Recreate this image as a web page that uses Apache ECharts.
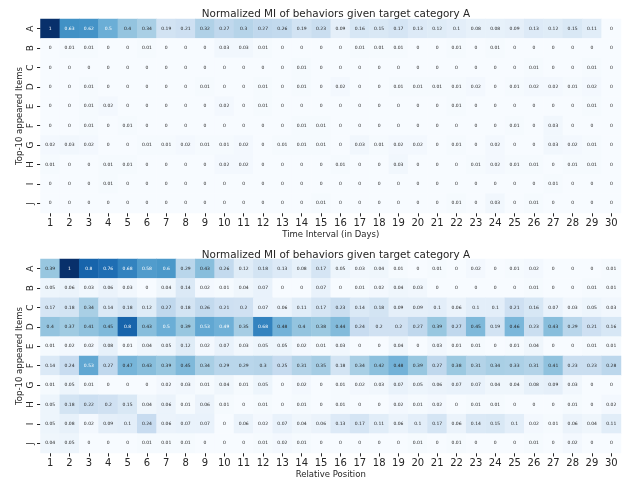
<!DOCTYPE html>
<html>
<head>
<meta charset="utf-8">
<script src="https://cdn.jsdelivr.net/npm/echarts@6/dist/echarts.min.js"></script>
<style>
  html, body { margin: 0; padding: 0; background: #fff; }
  #chart { width: 639px; height: 485px; }
</style>
</head>
<body>
<div id="chart"></div>
<script>
// tick labels
const items = ['A', 'B', 'C', 'D', 'E', 'F', 'G', 'H', 'I', 'J']
const steps = ['1', '2', '3', '4', '5', '6', '7', '8', '9', '10', '11', '12', '13', '14', '15',
  '16', '17', '18', '19', '20', '21', '22', '23', '24', '25', '26', '27', '28', '29', '30']

// top panel: MI by time interval (rows A..J, columns day 1..30)
const intervalMI = [
  [1, 0.63, 0.62, 0.5, 0.4, 0.34, 0.19, 0.21, 0.32, 0.27, 0.3, 0.27, 0.26, 0.19, 0.23, 0.09, 0.16, 0.15, 0.17, 0.13, 0.12, 0.1, 0.08, 0.08, 0.09, 0.13, 0.12, 0.15, 0.11, 0],
  [0, 0.01, 0.01, 0, 0, 0.01, 0, 0, 0, 0.03, 0.03, 0.01, 0, 0, 0, 0, 0.01, 0.01, 0.01, 0, 0, 0.01, 0, 0.01, 0, 0, 0, 0, 0, 0],
  [0, 0, 0, 0, 0, 0, 0, 0, 0, 0, 0, 0, 0, 0.01, 0, 0, 0, 0, 0, 0, 0, 0, 0, 0, 0, 0.01, 0, 0, 0.01, 0],
  [0, 0, 0.01, 0, 0, 0, 0, 0, 0.01, 0, 0, 0.01, 0, 0.01, 0, 0.02, 0, 0, 0.01, 0.01, 0.01, 0.01, 0.02, 0, 0.01, 0.02, 0.02, 0.01, 0.02, 0],
  [0, 0, 0.01, 0.02, 0, 0, 0, 0, 0, 0.02, 0, 0.01, 0, 0, 0, 0, 0, 0, 0, 0, 0, 0.01, 0, 0, 0, 0, 0, 0, 0.01, 0],
  [0, 0, 0.01, 0, 0.01, 0, 0, 0, 0, 0, 0, 0, 0, 0.01, 0.01, 0, 0, 0, 0, 0, 0, 0, 0, 0, 0.01, 0, 0.03, 0, 0, 0],
  [0.02, 0.03, 0.02, 0, 0, 0.01, 0.01, 0.02, 0.01, 0.01, 0.02, 0, 0.01, 0.01, 0.01, 0, 0.03, 0.01, 0.02, 0.02, 0, 0.01, 0, 0.02, 0, 0, 0.03, 0.02, 0.01, 0],
  [0.01, 0, 0, 0.01, 0.01, 0, 0, 0, 0, 0.02, 0.02, 0, 0, 0, 0, 0.01, 0, 0, 0.03, 0, 0, 0, 0.01, 0.02, 0.01, 0.01, 0, 0.01, 0.01, 0],
  [0, 0, 0, 0.01, 0, 0, 0, 0, 0, 0, 0, 0, 0, 0, 0, 0, 0, 0, 0, 0, 0, 0, 0, 0, 0, 0, 0.01, 0, 0, 0],
  [0, 0, 0, 0, 0, 0, 0, 0, 0, 0, 0, 0, 0, 0, 0.01, 0, 0, 0, 0, 0, 0, 0.01, 0, 0.03, 0, 0.01, 0, 0, 0, 0]
]

// bottom panel: MI by relative position
const positionMI = [
  [0.39, 1, 0.8, 0.76, 0.68, 0.58, 0.6, 0.29, 0.43, 0.26, 0.12, 0.18, 0.13, 0.08, 0.17, 0.05, 0.03, 0.04, 0.01, 0, 0.01, 0, 0.02, 0, 0.01, 0.02, 0, 0, 0, 0.01],
  [0.05, 0.06, 0.03, 0.06, 0.03, 0, 0.04, 0.14, 0.02, 0.01, 0.04, 0.07, 0, 0, 0.07, 0, 0.01, 0.02, 0.04, 0.03, 0, 0, 0, 0, 0, 0.01, 0, 0, 0.01, 0.01],
  [0.17, 0.18, 0.34, 0.14, 0.18, 0.12, 0.27, 0.18, 0.26, 0.21, 0.2, 0.07, 0.06, 0.11, 0.17, 0.23, 0.14, 0.18, 0.09, 0.09, 0.1, 0.06, 0.1, 0.1, 0.21, 0.16, 0.07, 0.03, 0.05, 0.03],
  [0.4, 0.37, 0.41, 0.45, 0.8, 0.43, 0.5, 0.39, 0.53, 0.49, 0.35, 0.68, 0.48, 0.4, 0.38, 0.44, 0.24, 0.2, 0.2, 0.27, 0.39, 0.27, 0.45, 0.19, 0.46, 0.23, 0.43, 0.29, 0.21, 0.16],
  [0.01, 0.02, 0.02, 0.08, 0.01, 0.04, 0.05, 0.12, 0.02, 0.07, 0.03, 0.05, 0.05, 0.02, 0.01, 0.03, 0, 0, 0.04, 0, 0.03, 0.01, 0.01, 0, 0.01, 0.04, 0, 0, 0.01, 0.01],
  [0.14, 0.24, 0.53, 0.27, 0.47, 0.43, 0.39, 0.45, 0.34, 0.29, 0.29, 0.3, 0.25, 0.31, 0.35, 0.18, 0.34, 0.42, 0.48, 0.39, 0.27, 0.38, 0.31, 0.34, 0.33, 0.31, 0.41, 0.23, 0.23, 0.28],
  [0.01, 0.05, 0.01, 0, 0, 0, 0.02, 0.03, 0.01, 0.04, 0.01, 0.05, 0, 0.02, 0, 0.01, 0.02, 0.03, 0.07, 0.05, 0.06, 0.07, 0.07, 0.04, 0.04, 0.08, 0.09, 0.03, 0, 0],
  [0.05, 0.18, 0.22, 0.2, 0.15, 0.04, 0.06, 0.01, 0.06, 0.01, 0, 0.01, 0, 0.01, 0, 0.01, 0, 0, 0.02, 0.01, 0.02, 0, 0.01, 0.01, 0, 0, 0, 0.01, 0, 0.02],
  [0.05, 0.08, 0.02, 0.09, 0.1, 0.24, 0.06, 0.07, 0.07, 0, 0.06, 0.02, 0.07, 0.04, 0.06, 0.13, 0.17, 0.11, 0.06, 0.1, 0.17, 0.06, 0.14, 0.15, 0.1, 0.02, 0.01, 0.06, 0.04, 0.11],
  [0.04, 0.05, 0, 0, 0, 0.01, 0.01, 0.01, 0, 0, 0, 0.01, 0.02, 0.01, 0, 0, 0, 0, 0, 0.01, 0, 0.01, 0, 0, 0, 0.01, 0, 0.02, 0, 0]
]

const titleText = 'Normalized MI of behaviors given target category A'
const FONT = 'DejaVu Sans'
const INK = '#262626'
// matplotlib "Blues"
const blues = ['#f7fbff', '#deebf7', '#c6dbef', '#9ecae1', '#6baed6', '#4292c6', '#2171b5', '#08519c', '#08306b']

function cells(matrix) {
  const out = []
  matrix.forEach((row, r) => {
    row.forEach((v, c) => {
      out.push({
        value: [c, r, v],
        label: { color: v >= 0.49 ? '#ffffff' : INK }
      })
    })
  })
  return out
}

function xAxisFor(idx, name) {
  return {
    type: 'category',
    gridIndex: idx,
    data: steps,
    name: name,
    nameLocation: 'middle',
    nameGap: 17,
    nameTextStyle: { fontFamily: FONT, fontSize: 8.5, color: INK },
    axisLine: { show: false },
    axisTick: { show: true, alignWithLabel: true, length: 3.5, lineStyle: { color: INK, width: 1 } },
    axisLabel: { fontFamily: FONT, fontSize: 10, color: INK, margin: 5, interval: 0 },
    splitLine: { show: false }
  }
}

function yAxisFor(idx) {
  return {
    type: 'category',
    gridIndex: idx,
    data: items,
    inverse: true,
    name: 'Top-10 appeared Items',
    nameLocation: 'middle',
    nameGap: 16,
    nameMoveOverlap: false,
    nameTextStyle: { fontFamily: FONT, fontSize: 8.5, color: INK },
    axisLine: { show: false },
    axisTick: { show: true, alignWithLabel: true, length: 3.5, lineStyle: { color: INK, width: 1 } },
    axisLabel: { fontFamily: FONT, fontSize: 9, color: INK, margin: 5, rotate: 90, interval: 0 },
    splitLine: { show: false }
  }
}

function series(idx, matrix) {
  return {
    type: 'heatmap',
    xAxisIndex: idx,
    yAxisIndex: idx,
    data: cells(matrix),
    label: {
      show: true,
      fontFamily: FONT,
      fontSize: 4.5,
      formatter: (p) => String(p.value[2])
    },
    itemStyle: { borderWidth: 0 },
    emphasis: { disabled: true }
  }
}

const chart = echarts.init(document.getElementById('chart'), null, { renderer: 'canvas' })

chart.setOption({
  animation: false,
  backgroundColor: '#ffffff',
  title: [
    { text: titleText, left: 331, top: 4, textAlign: 'center', textStyle: { fontFamily: FONT, fontSize: 10.4, fontWeight: 'normal', color: INK } },
    { text: titleText, left: 331, top: 245, textAlign: 'center', textStyle: { fontFamily: FONT, fontSize: 10.4, fontWeight: 'normal', color: INK } }
  ],
  grid: [
    { left: 40.5, right: 18, top: 19, height: 194 },
    { left: 40.5, right: 18, top: 259, height: 194 }
  ],
  xAxis: [xAxisFor(0, 'Time Interval (in Days)'), xAxisFor(1, 'Relative Position')],
  yAxis: [yAxisFor(0), yAxisFor(1)],
  visualMap: [
    { show: false, type: 'continuous', min: 0, max: 1, dimension: 2, seriesIndex: [0, 1], inRange: { color: blues } }
  ],
  series: [series(0, intervalMI), series(1, positionMI)]
})
</script>
</body>
</html>
